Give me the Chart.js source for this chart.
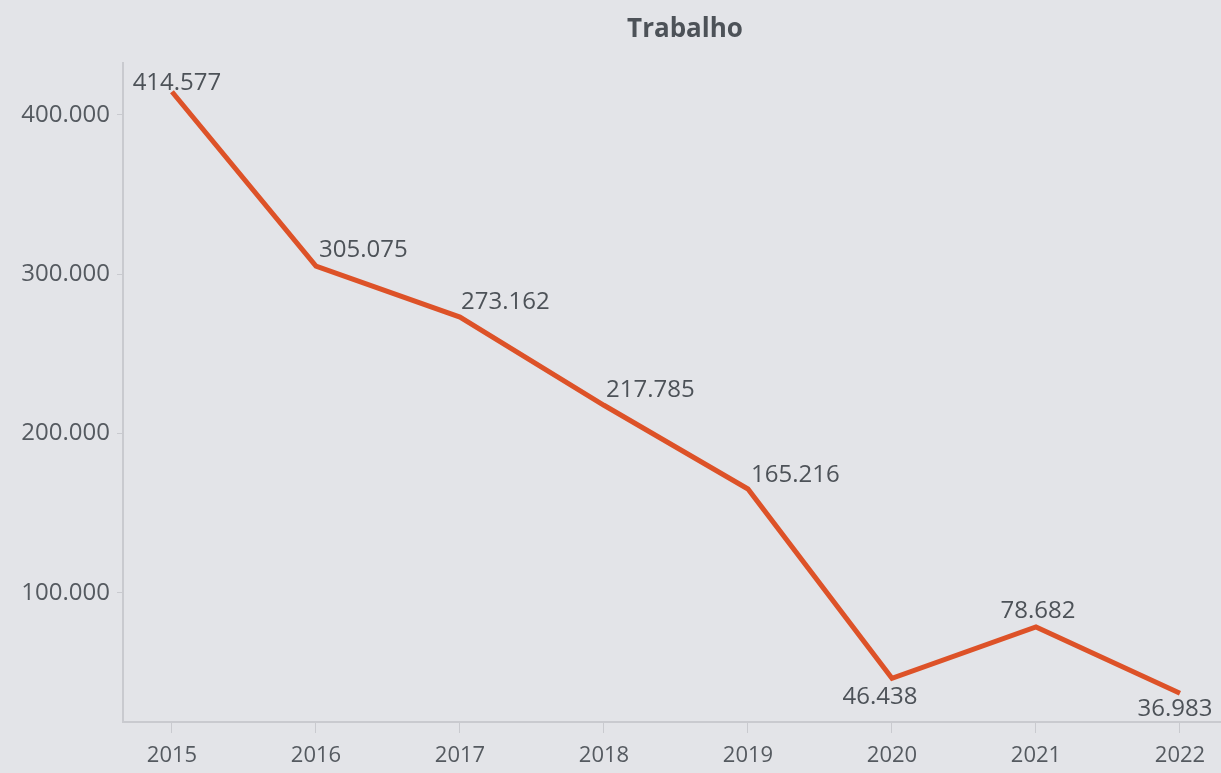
<!DOCTYPE html>
<html>
<head>
<meta charset="utf-8">
<script src="https://cdn.jsdelivr.net/npm/chart.js@4.4.0/dist/chart.umd.min.js"></script>
<style>
  html, body { margin: 0; padding: 0; background: #e3e4e8; }
  #wrap { width: 1221px; height: 773px; }
</style>
</head>
<body>
<div id="wrap"><canvas id="trabalho"></canvas></div>
<script>
var years = [2015, 2016, 2017, 2018, 2019, 2020, 2021, 2022];
var trabalho = [414577, 305075, 273162, 217785, 165216, 46438, 78682, 36983];
var yTicks = [100000, 200000, 300000, 400000];
var titulo = 'Trabalho';

function fmt(n) {
  return String(Math.round(n)).replace(/\B(?=(\d{3})+(?!\d))/g, '.');
}

// value labels next to each point: [dx, dy, align]
var labelSpots = [
  [5, -9, 'center'],
  [3, -16, 'left'],
  [1, -15, 'left'],
  [2, -15, 'left'],
  [3, -14, 'left'],
  [-12, 19, 'center'],
  [2, -16, 'center'],
  [-5, 16, 'center']
];

var valueLabels = {
  id: 'valueLabels',
  afterDatasetsDraw: function (chart) {
    var ctx = chart.ctx;
    var meta = chart.getDatasetMeta(0);
    ctx.save();
    ctx.font = '24px "Open Sans"';
    ctx.fillStyle = '#4d5258';
    ctx.textBaseline = 'middle';
    meta.data.forEach(function (pt, i) {
      var s = labelSpots[i];
      ctx.textAlign = s[2];
      ctx.fillText(fmt(trabalho[i]), pt.x + s[0], pt.y + s[1]);
    });

    // title sits over the plot area, slightly right of centre
    ctx.font = 'bold 26px "Open Sans"';
    ctx.textAlign = 'center';
    ctx.fillText(titulo, 685, 30);
    ctx.restore();
  }
};

var ctx = document.getElementById('trabalho').getContext('2d');
var chart = new Chart(ctx, {
  type: 'line',
  data: {
    datasets: [{
      data: years.map(function (y, i) { return { x: y, y: trabalho[i] }; }),
      borderColor: '#dd5228',
      borderWidth: 5,
      pointRadius: 0,
      tension: 0,
      fill: false
    }]
  },
  options: {
    responsive: true,
    maintainAspectRatio: false,
    animation: false,
    layout: { padding: { top: 63 } },
    plugins: {
      legend: { display: false },
      tooltip: { enabled: false },
      title: { display: false }
    },
    scales: {
      x: {
        type: 'linear',
        min: 2014.66,
        max: 2022.285,
        ticks: {
          stepSize: 1,
          includeBounds: false,
          color: '#555a60',
          font: { family: 'Open Sans', size: 22 },
          padding: 10,
          maxRotation: 0,
          callback: function (v) { return years.indexOf(v) >= 0 ? String(v) : ''; }
        },
        grid: { drawOnChartArea: false, color: '#c9cacf', tickLength: 11 },
        border: { color: '#c9cacf', width: 2 },
        afterFit: function (s) { s.height = 51; }
      },
      y: {
        min: 19000,
        max: 432600,
        afterBuildTicks: function (s) {
          s.ticks = yTicks.map(function (v) { return { value: v }; });
        },
        ticks: {
          color: '#555a60',
          font: { family: 'Open Sans', size: 24 },
          padding: 7,
          callback: function (v) { return fmt(v); }
        },
        grid: { drawOnChartArea: false, color: '#c9cacf', tickLength: 6 },
        border: { color: '#c9cacf', width: 2 },
        afterFit: function (s) { s.width = 123; }
      }
    }
  },
  plugins: [valueLabels]
});
</script>
</body>
</html>
